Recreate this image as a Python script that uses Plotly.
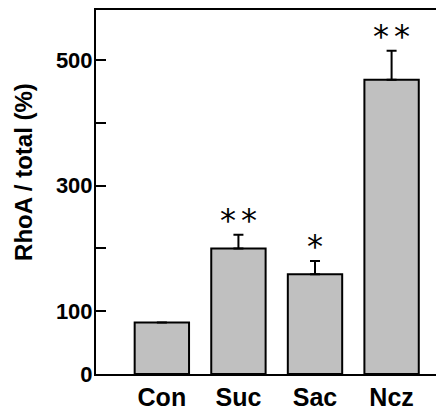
import plotly.graph_objects as go

categories = ["Con", "Suc", "Sac", "Ncz"]
values = [82, 200, 159, 469]
errors = [None, 22, 21, 46]
star_counts = [0, 2, 1, 2]
y_tickvals = [0, 100, 200, 300, 400, 500]
y_ticktext = ["0", "100", "", "300", "", "500"]
y_title = "RhoA / total (%)"

fig = go.Figure()
fig.add_trace(go.Bar(
    x=categories, y=values,
    width=0.71,
    marker=dict(color="#c0c0c0", line=dict(color="black", width=2)),
    error_y=dict(type="data", array=errors, arrayminus=[0] * len(errors),
                 symmetric=False, color="black", thickness=2, width=5),
))

for c, v, e, n in zip(categories, values, errors, star_counts):
    for i in range(n):
        fig.add_annotation(x=c, y=v + (e or 0), text="*", showarrow=False,
                           yanchor="middle", yshift=15,
                           xshift=(i - (n - 1) / 2) * 21,
                           font=dict(family="DejaVu Sans", size=32, color="black"))

fig.add_annotation(xref="paper", yref="paper", x=-0.212, y=0.555,
                   text=y_title, textangle=-90, showarrow=False,
                   xanchor="center", yanchor="middle",
                   font=dict(family="Liberation Sans", size=24, weight="bold", color="black"))

fig.update_layout(
    width=436, height=414,
    margin=dict(l=96, r=0, t=10, b=40),
    plot_bgcolor="white", paper_bgcolor="white",
    showlegend=False,
    font=dict(family="Liberation Sans", color="black"),
    xaxis=dict(
        range=[-0.86, 3.58], showline=True, linecolor="black", linewidth=2,
        mirror=True, ticks="", showgrid=False, zeroline=False,
        tickfont=dict(size=25, weight="bold"),
    ),
    yaxis=dict(
        range=[0, 580], showline=True, linecolor="black", linewidth=2,
        ticks="inside", ticklen=10, tickwidth=2, tickcolor="black",
        tickvals=y_tickvals, ticktext=y_ticktext, showgrid=False, zeroline=False,
        tickfont=dict(size=22, weight="bold"), ticklabelstandoff=-3,
    ),
)

fig.write_html("out.html")
